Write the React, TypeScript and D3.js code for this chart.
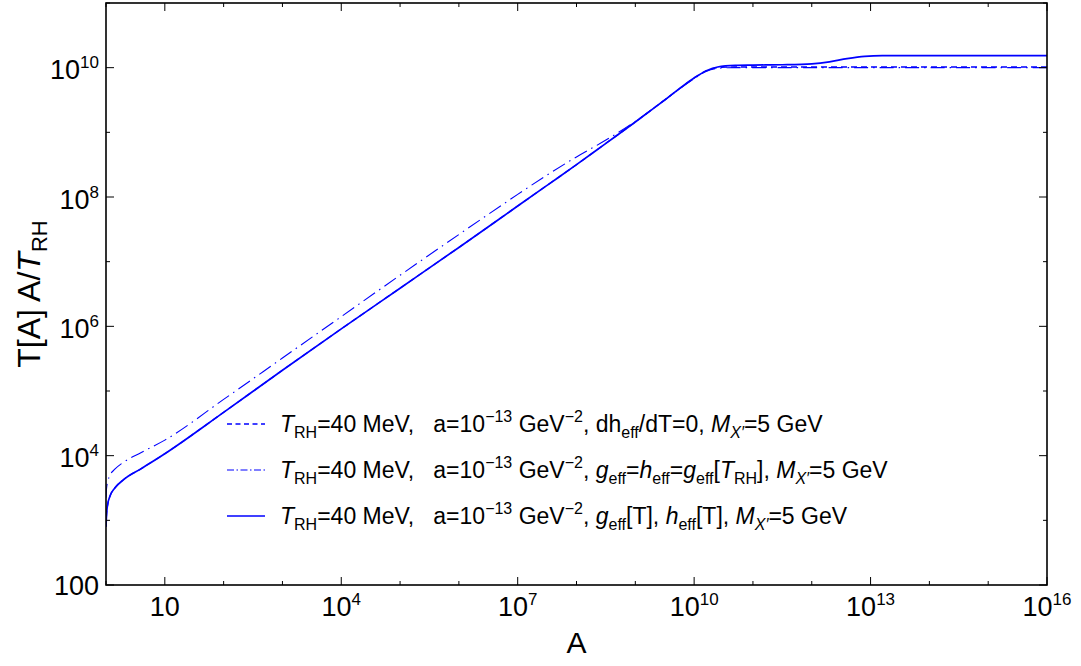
import React from "react";
import * as d3 from "d3";

// Scale factor A (log10) sampled along the curves
const logA = [0, 0.01, 0.03, 0.07, 0.15, 0.3, 0.6, 1, 2, 3, 4, 5, 6, 7, 7.5, 8, 8.5, 9, 9.5, 10, 10.2, 10.4, 10.7, 11, 11.5, 12, 12.3, 12.6, 12.9, 13.2, 14, 16];

// log10 of T[A] A / T_RH for each model
const logFull = [2.9, 3.1, 3.25, 3.38, 3.5, 3.63, 3.8, 4.03, 4.67, 5.32, 5.96, 6.59, 7.22, 7.86, 8.18, 8.5, 8.83, 9.16, 9.5, 9.84, 9.95, 10.01, 10.035, 10.04, 10.045, 10.06, 10.09, 10.14, 10.175, 10.185, 10.185, 10.185];
const logConstG = [3.35, 3.5, 3.6, 3.7, 3.79, 3.9, 4.05, 4.24, 4.87, 5.51, 6.15, 6.79, 7.42, 8.04, 8.34, 8.62, 8.88, 9.17, 9.5, 9.83, 9.94, 9.99, 10.0, 10.0, 10.0, 10.0, 10.0, 10.0, 10.0, 10.0, 10.0, 10.0];
const logNoDh = [2.9, 3.1, 3.25, 3.38, 3.5, 3.63, 3.8, 4.03, 4.67, 5.32, 5.96, 6.59, 7.22, 7.86, 8.18, 8.5, 8.83, 9.16, 9.5, 9.84, 9.95, 10.0, 10.01, 10.01, 10.01, 10.01, 10.01, 10.01, 10.01, 10.01, 10.01, 10.01];

const xDecades = d3.range(0, 17);
const xLabelled = [1, 4, 7, 10, 13, 16];
const yDecades = d3.range(2, 12);
const yLabelled = [2, 4, 6, 8, 10];

const W = 1081;
const H = 666;
const L = 106, R = 1047, T = 3, B = 585;
const FONT = "'Liberation Sans', Arial, Helvetica, sans-serif";
const BLUE = "#0000ff";

const LEG_FS = 23;
const LEG_SUB = 16;

const x = d3.scaleLog().domain([1, 1e16]).range([L, R]);
const y = d3.scaleLog().domain([1e2, 1e11]).range([B, T]);

const line = d3
  .line<[number, number]>()
  .x((d) => x(Math.pow(10, d[0])))
  .y((d) => y(Math.pow(10, d[1])))
  .curve(d3.curveMonotoneX);

const toPts = (vals: number[]) => logA.map((a, i) => [a, vals[i]] as [number, number]);

function Pow10({ e, plain100 }: { e: number; plain100?: boolean }) {
  if (e === 1) return <>10</>;
  if (e === 2 && plain100) return <>100</>;
  return (
    <>
      10
      <tspan dy={-11} fontSize={17}>
        {e}
      </tspan>
    </>
  );
}

function LegendText({ row }: { row: number }) {
  const pre = (
    <>
      <tspan fontStyle="italic">T</tspan>
      <tspan dy={6} fontSize={LEG_SUB}>RH</tspan>
      <tspan dy={-6}>{"=40 MeV,\u00a0\u00a0\u00a0a=10"}</tspan>
      <tspan dy={-10} fontSize={LEG_SUB}>−13</tspan>
      <tspan dy={10}> GeV</tspan>
      <tspan dy={-10} fontSize={LEG_SUB}>−2</tspan>
      <tspan dy={10}>{",\u00a0"}</tspan>
    </>
  );
  const mx = (
    <>
      <tspan fontStyle="italic">M</tspan>
      <tspan dy={6} fontSize={LEG_SUB} fontStyle="italic">X′</tspan>
      <tspan dy={-6}>=5 GeV</tspan>
    </>
  );
  let mid: React.ReactNode;
  if (row === 0) {
    mid = (
      <>
        <tspan>dh</tspan>
        <tspan dy={6} fontSize={LEG_SUB}>eff</tspan>
        <tspan dy={-6}>{"/dT=0,\u00a0"}</tspan>
      </>
    );
  } else if (row === 1) {
    mid = (
      <>
        <tspan fontStyle="italic">g</tspan>
        <tspan dy={6} fontSize={LEG_SUB}>eff</tspan>
        <tspan dy={-6}>=</tspan>
        <tspan fontStyle="italic">h</tspan>
        <tspan dy={6} fontSize={LEG_SUB}>eff</tspan>
        <tspan dy={-6}>=</tspan>
        <tspan fontStyle="italic">g</tspan>
        <tspan dy={6} fontSize={LEG_SUB}>eff</tspan>
        <tspan dy={-6}>[</tspan>
        <tspan fontStyle="italic">T</tspan>
        <tspan dy={6} fontSize={LEG_SUB}>RH</tspan>
        <tspan dy={-6}>{"],\u00a0"}</tspan>
      </>
    );
  } else {
    mid = (
      <>
        <tspan fontStyle="italic">g</tspan>
        <tspan dy={6} fontSize={LEG_SUB}>eff</tspan>
        <tspan dy={-6}>{"[T],\u00a0"}</tspan>
        <tspan fontStyle="italic">h</tspan>
        <tspan dy={6} fontSize={LEG_SUB}>eff</tspan>
        <tspan dy={-6}>{"[T],\u00a0"}</tspan>
      </>
    );
  }
  return (
    <>
      {pre}
      {mid}
      {mx}
    </>
  );
}

const series = [
  { name: "noDh", vals: logNoDh, dash: "6,4", width: 1.3, legendDash: "5,3.5" },
  { name: "constG", vals: logConstG, dash: "14,5,1.5,5", width: 1.1, legendDash: "7,2.5,1.5,2.5" },
  { name: "full", vals: logFull, dash: null as string | null, width: 1.7, legendDash: null as string | null },
];

const legendCenters = [424, 470, 516];

export default function App() {
  return (
    <svg
      width={W}
      height={H}
      style={{ position: "absolute", left: 0, top: 0, background: "#fff" }}
      fontFamily={FONT}
    >
      <defs>
        <clipPath id="plot-area">
          <rect x={L} y={T} width={R - L} height={B - T} />
        </clipPath>
      </defs>

      {/* curves */}
      <g clipPath="url(#plot-area)">
        {series.map((s) => (
          <path
            key={s.name}
            d={line(toPts(s.vals)) || ""}
            fill="none"
            stroke={BLUE}
            strokeWidth={s.width}
            strokeDasharray={s.dash || undefined}
          />
        ))}
      </g>

      {/* ticks on all four sides, pointing inward */}
      <g stroke="#000" strokeWidth={1}>
        {xDecades.map((e) => {
          const px = x(Math.pow(10, e));
          const len = xLabelled.includes(e) ? 8 : 4;
          return (
            <g key={"xt" + e}>
              <line x1={px} x2={px} y1={B} y2={B - len} />
              <line x1={px} x2={px} y1={T} y2={T + len} />
            </g>
          );
        })}
        {yDecades.map((e) => {
          const py = y(Math.pow(10, e));
          const len = yLabelled.includes(e) ? 8 : 4;
          return (
            <g key={"yt" + e}>
              <line x1={L} x2={L + len} y1={py} y2={py} />
              <line x1={R} x2={R - len} y1={py} y2={py} />
            </g>
          );
        })}
      </g>

      {/* frame */}
      <rect x={L} y={T} width={R - L} height={B - T} fill="none" stroke="#000" strokeWidth={1.6} />

      {/* tick labels */}
      <g fontSize={27} fill="#000">
        {xLabelled.map((e) => (
          <text key={"xl" + e} x={x(Math.pow(10, e))} y={616} textAnchor="middle">
            <Pow10 e={e} />
          </text>
        ))}
        {yLabelled.map((e) => (
          <text
            key={"yl" + e}
            x={99}
            y={y(Math.pow(10, e)) + (e === 2 ? 9.7 : 11.5)}
            textAnchor="end"
          >
            <Pow10 e={e} plain100 />
          </text>
        ))}
      </g>

      {/* axis titles */}
      <text x={(L + R) / 2} y={653} textAnchor="middle" fontSize={30}>
        A
      </text>
      <text transform={`translate(40,${(T + B) / 2}) rotate(-90)`} textAnchor="middle" fontSize={32}>
        T[A] A/<tspan fontStyle="italic">T</tspan>
        <tspan dy={7} fontSize={22}>RH</tspan>
      </text>

      {/* legend */}
      <g fontSize={LEG_FS} fill="#000">
        {series.map((s, i) => (
          <g key={"lg" + s.name}>
            <line
              x1={227}
              x2={265}
              y1={legendCenters[i]}
              y2={legendCenters[i]}
              stroke={BLUE}
              strokeWidth={s.width}
              strokeDasharray={s.legendDash || undefined}
            />
            <text x={280} y={legendCenters[i] + 8}>
              <LegendText row={i} />
            </text>
          </g>
        ))}
      </g>
    </svg>
  );
}
